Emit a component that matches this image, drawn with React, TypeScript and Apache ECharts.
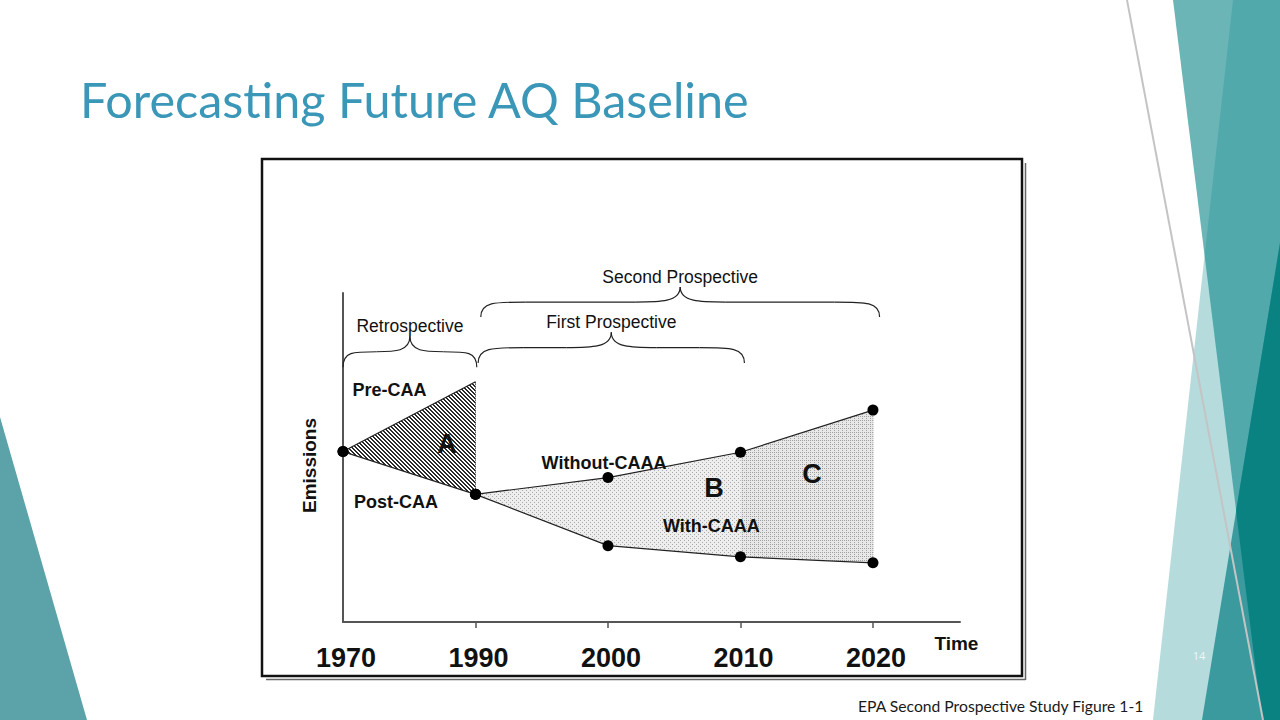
import React, { useEffect, useRef } from "react";
import * as echarts from "echarts";

// ---------- data ----------
const years = ["1970", "1990", "2000", "2010", "2020"];
// emissions index values (relative units)
const preCAA = [51.8, 73.0]; // 1970, 1990
const postCAA = [51.8, 38.8]; // 1970, 1990
const withoutCAAA = [38.8, 43.9, 51.6, 64.4]; // 1990, 2000, 2010, 2020
const withCAAA = [38.8, 23.2, 19.8, 18.0]; // 1990, 2000, 2010, 2020
const periodNames = ["Retrospective", "First Prospective", "Second Prospective"];
const periodStart = [0, 1.02, 1.04]; // axis position (year index)
const periodEnd = [1.01, 3.03, 4.05];
const braceBase = [77.4, 78.7, 92.7];
const braceTip = [86.9, 88.1, 101.8];
const regionNames = ["A", "B", "C"];
const lineNames = ["Pre-CAA", "Post-CAA", "Without-CAAA", "With-CAAA"];

const LAB_FONT = "'Liberation Sans', Arial, sans-serif";

function makePattern(w: number, h: number, draw: (ctx: CanvasRenderingContext2D) => void) {
  const c = document.createElement("canvas");
  c.width = w;
  c.height = h;
  const ctx = c.getContext("2d") as CanvasRenderingContext2D;
  draw(ctx);
  return { image: c, repeat: "repeat", imageWidth: w, imageHeight: h } as any;
}

export default function App() {
  const ref = useRef<HTMLDivElement>(null);

  useEffect(() => {
    if (!ref.current) return;
    const chart = echarts.init(ref.current, undefined, { renderer: "svg" });

    const hatch = makePattern(4, 4, (ctx) => {
      ctx.fillStyle = "#ffffff";
      ctx.fillRect(0, 0, 4, 4);
      ctx.fillStyle = "#2a2a2a";
      for (let i = 0; i < 4; i++) {
        ctx.fillRect(i, i, 1, 1);
        ctx.fillRect((i + 1) % 4, i, 1, 1);
      }
    });
    const stippleB = makePattern(4, 4, (ctx) => {
      ctx.fillStyle = "#eeeeee";
      ctx.fillRect(0, 0, 4, 4);
      ctx.fillStyle = "#a8a8a8";
      ctx.fillRect(0, 0, 1, 1);
      ctx.fillRect(2, 2, 1, 1);
    });
    const stippleC = makePattern(4, 4, (ctx) => {
      ctx.fillStyle = "#e8e8e8";
      ctx.fillRect(0, 0, 4, 4);
      ctx.fillStyle = "#a0a0a0";
      ctx.fillRect(0, 0, 1, 1);
      ctx.fillRect(2, 2, 1, 1);
      ctx.fillRect(2, 0, 1, 1);
    });

    const renderAreas = (params: any, api: any) => {
      const P = (x: number, y: number) => api.coord([x, y]);
      const aPts = [P(0, preCAA[0]), P(1, preCAA[1]), P(1, postCAA[1])];
      const bPts = [
        P(1, withoutCAAA[0]), P(2, withoutCAAA[1]), P(3, withoutCAAA[2]),
        P(3, withCAAA[2]), P(2, withCAAA[1]), P(1, withCAAA[0]),
      ];
      const cPts = [P(3, withoutCAAA[2]), P(4, withoutCAAA[3]), P(4, withCAAA[3]), P(3, withCAAA[2])];
      const aTop = P(1, preCAA[1]);
      const aBot = P(1, postCAA[1]);
      const cTop = P(4, withoutCAAA[3]);
      const cBot = P(4, withCAAA[3]);
      return {
        type: "group",
        children: [
          { type: "polygon", shape: { points: aPts }, style: { fill: hatch } },
          { type: "polygon", shape: { points: bPts }, style: { fill: stippleB } },
          { type: "polygon", shape: { points: cPts }, style: { fill: stippleC } },
          {
            type: "line",
            shape: { x1: aTop[0], y1: aTop[1], x2: aBot[0], y2: aBot[1] },
            style: { stroke: "#444", lineWidth: 1, lineDash: [1, 1] },
          },
          {
            type: "line",
            shape: { x1: cTop[0], y1: cTop[1], x2: cBot[0], y2: cBot[1] },
            style: { stroke: "#9a9a9a", lineWidth: 1, lineDash: [1, 1] },
          },
        ],
      };
    };

    const bez = (x1: number, y1: number, c1x: number, c1y: number, c2x: number, c2y: number, x2: number, y2: number) => ({
      type: "bezierCurve",
      shape: { x1, y1, cpx1: c1x, cpy1: c1y, cpx2: c2x, cpy2: c2y, x2, y2 },
      style: { stroke: "#222", lineWidth: 1.2, fill: null },
    });

    const txt = (text: string, p: number[], size: number, weight: string) => ({
      type: "text",
      x: p[0],
      y: p[1],
      style: {
        text,
        align: "center",
        verticalAlign: "middle",
        fontSize: size,
        fontWeight: weight,
        fontFamily: LAB_FONT,
        fill: "#111",
      },
    });

    const renderNotes = (params: any, api: any) => {
      const P = (x: number, y: number) => api.coord([x, y]);
      const children: any[] = [];
      for (let i = 0; i < periodNames.length; i++) {
        const L = P(periodStart[i], braceBase[i]);
        const R = P(periodEnd[i], braceBase[i]);
        const T = P((periodStart[i] + periodEnd[i]) / 2, braceTip[i]);
        const xL = L[0], xR = R[0], yB = L[1], yT = T[1], xm = T[0];
        const yM = (yB + yT) / 2;
        const r = Math.min(45, (xR - xL) * 0.25);
        children.push(bez(xL, yB, xL, yM, xL + r * 0.3, yM, xL + r, yM));
        children.push({
          type: "line",
          shape: { x1: xL + r, y1: yM, x2: xm - r, y2: yM },
          style: { stroke: "#222", lineWidth: 1.2 },
        });
        children.push(bez(xm - r, yM, xm - r * 0.45, yM, xm, yM, xm, yT));
        children.push(bez(xm, yT, xm, yM, xm + r * 0.45, yM, xm + r, yM));
        children.push({
          type: "line",
          shape: { x1: xm + r, y1: yM, x2: xR - r, y2: yM },
          style: { stroke: "#222", lineWidth: 1.2 },
        });
        children.push(bez(xR - r, yM, xR - r * 0.3, yM, xR, yM, xR, yB));
        children.push(txt(periodNames[i], [xm, yT - 10], 17.5, "normal"));
      }
      children.push(txt(lineNames[0], P(0.351, 70.5), 18, "bold"));
      children.push(txt(lineNames[1], P(0.4, 36.5), 18, "bold"));
      children.push(txt(lineNames[2], P(1.97, 48.3), 18, "bold"));
      children.push(txt(lineNames[3], P(2.78, 29.2), 18, "bold"));
      children.push(txt(regionNames[0], P(0.785, 54.1), 27, "bold"));
      children.push(txt(regionNames[1], P(2.8, 40.7), 27, "bold"));
      children.push(txt(regionNames[2], P(3.54, 45.0), 27, "bold"));
      children.push(txt("Time", P(4.63, -6.4), 19, "bold"));
      return { type: "group", children };
    };

    const lineStyle = { color: "#222", width: 1.2 };
    const itemStyle = { color: "#000" };

    const option: any = {
      animation: false,
      backgroundColor: "#ffffff",
      graphic: [
        // left decoration
        { type: "polygon", shape: { points: [[0, 417], [87, 720], [0, 720]] }, style: { fill: "#5ba3a8" }, z: 0 },
        // right decorations
        { type: "polygon", shape: { points: [[1173, 0], [1280, 0], [1280, 720], [1262, 720]] }, style: { fill: "#6bb5b6" }, z: 0 },
        { type: "polygon", shape: { points: [[1233, 0], [1280, 0], [1280, 720], [1153, 720]] }, style: { fill: "rgba(31,146,149,0.33)" }, z: 1 },
        { type: "polygon", shape: { points: [[1280, 243], [1280, 720], [1202, 720]] }, style: { fill: "#3a9a9e" }, z: 2 },
        { type: "polygon", shape: { points: [[1280, 243], [1280, 720], [1262, 720], [1236, 511]] }, style: { fill: "#0b8282" }, z: 3 },
        { type: "line", shape: { x1: 1127, y1: 0, x2: 1263, y2: 720 }, style: { stroke: "#c4c4c4", lineWidth: 2 }, z: 4 },
        // title
        {
          type: "text",
          x: 80,
          y: 99,
          style: {
            text: "Forecasting Future AQ Baseline",
            fontSize: 48.5,
            fontFamily: "Lato, 'Open Sans', sans-serif",
            fill: "#3b97b8",
            verticalAlign: "middle",
          },
          z: 5,
        },
        // figure frame
        {
          type: "rect",
          shape: { x: 262, y: 159, width: 760, height: 517 },
          style: { fill: null, stroke: "#111", lineWidth: 2.5 },
          z: 5,
        },
        { type: "line", shape: { x1: 1025.5, y1: 163, x2: 1025.5, y2: 680 }, style: { stroke: "#666", lineWidth: 1.5 }, z: 5 },
        { type: "line", shape: { x1: 266, y1: 679.5, x2: 1025.5, y2: 679.5 }, style: { stroke: "#666", lineWidth: 1.5 }, z: 5 },
        // slide number & source
        {
          type: "text",
          x: 1199,
          y: 655,
          style: { text: "14", fontSize: 11, fontFamily: "'Open Sans', sans-serif", fill: "#eef7f7", align: "center", verticalAlign: "middle" },
          z: 6,
        },
        {
          type: "text",
          x: 858,
          y: 706,
          style: {
            text: "EPA Second Prospective Study Figure 1-1",
            fontSize: 15.7,
            fontFamily: "Lato, 'Open Sans', sans-serif",
            fill: "#1a1a1a",
            verticalAlign: "middle",
          },
          z: 6,
        },
      ],
      grid: { left: 343, top: 293, width: 617, height: 329, containLabel: false },
      xAxis: {
        type: "value",
        min: 0,
        max: 4.657,
        axisLine: { show: true, onZero: false, lineStyle: { color: "#555", width: 2 } },
        axisTick: { show: true, length: 6, customValues: [1, 2, 3, 4], lineStyle: { color: "#555", width: 1.5 } },
        axisLabel: {
          customValues: [0, 1, 2, 3, 4],
          formatter: (v: number) => years[Math.round(v)] ?? "",
          fontSize: 27,
          fontWeight: "bold",
          fontFamily: LAB_FONT,
          color: "#111",
          margin: 22,
          padding: [0, 0, 0, 6],
        },
        splitLine: { show: false },
      },
      yAxis: {
        type: "value",
        min: 0,
        max: 100,
        name: "Emissions",
        nameLocation: "middle",
        nameGap: 24,
        nameRotate: 90,
        nameTextStyle: { fontSize: 19, fontWeight: "bold", fontFamily: LAB_FONT, color: "#111", padding: [0, 16, 0, 0] },
        axisLine: { show: true, onZero: false, lineStyle: { color: "#555", width: 2 } },
        axisTick: { show: false },
        axisLabel: { show: false },
        splitLine: { show: false },
      },
      series: [
        { type: "custom", renderItem: renderAreas, data: [[0, 0]], clip: false, z: 1, silent: true },
        {
          type: "line",
          name: lineNames[0],
          data: [[0, preCAA[0]], { value: [1, preCAA[1]], symbol: "none" }],
          symbol: "circle",
          symbolSize: 11,
          lineStyle,
          itemStyle,
          z: 3,
        },
        {
          type: "line",
          name: lineNames[1],
          data: postCAA.map((v, i) => [i, v]),
          symbol: "circle",
          symbolSize: 11,
          lineStyle,
          itemStyle,
          z: 3,
        },
        {
          type: "line",
          name: lineNames[2],
          data: withoutCAAA.map((v, i) => [i + 1, v]),
          symbol: "circle",
          symbolSize: 11,
          lineStyle,
          itemStyle,
          z: 3,
        },
        {
          type: "line",
          name: lineNames[3],
          data: withCAAA.map((v, i) => [i + 1, v]),
          symbol: "circle",
          symbolSize: 11,
          lineStyle,
          itemStyle,
          z: 3,
        },
        { type: "custom", renderItem: renderNotes, data: [[0, 0]], clip: false, z: 5, silent: true },
      ],
    };

    chart.setOption(option);
    return () => chart.dispose();
  }, []);

  return (
    <div
      ref={ref}
      style={{ position: "fixed", left: 0, top: 0, width: 1280, height: 720, background: "#fff" }}
    />
  );
}
